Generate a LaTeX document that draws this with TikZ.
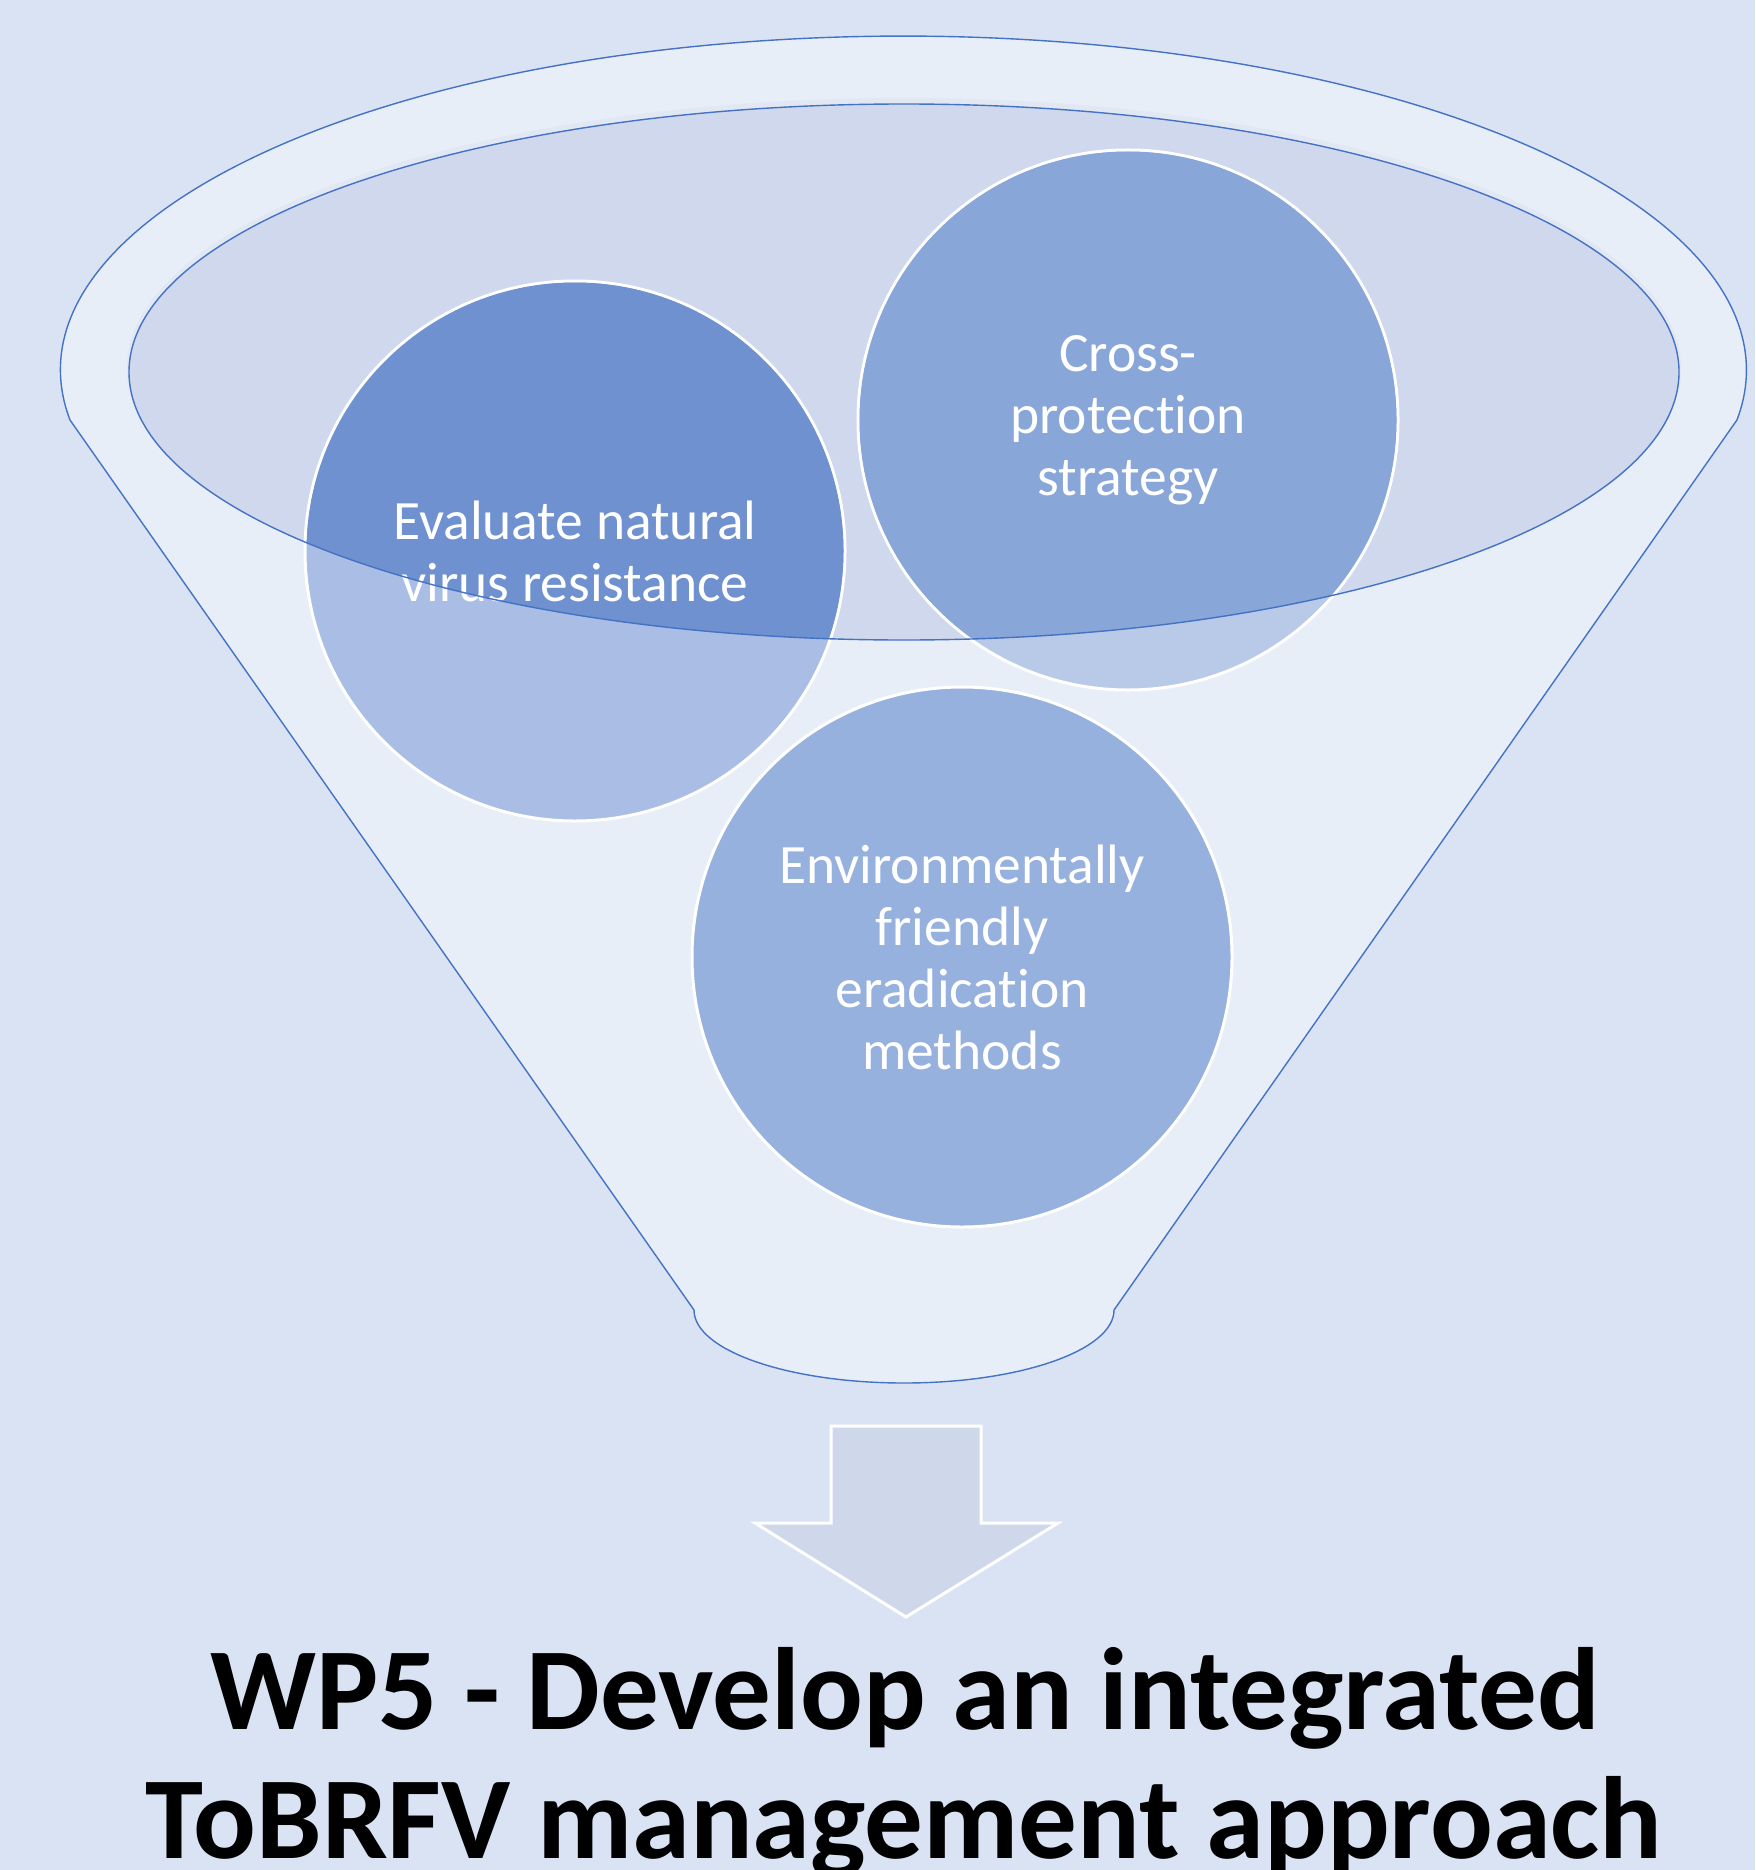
\documentclass[tikz,border=0pt]{standalone}
\usepackage{fontspec}
\setmainfont{Carlito}[Ligatures=NoCommon]
\definecolor{bg}{HTML}{DAE3F3}
\definecolor{funnelfill}{HTML}{E7EEF8}
\definecolor{innerfill}{HTML}{CFD8EC}
\definecolor{innerband}{HTML}{E1E8F4}
\definecolor{edgeblue}{HTML}{4472C4}
\definecolor{conelight}{HTML}{AABEE5}
\definecolor{conedark}{HTML}{6F91CF}
\definecolor{ctwolight}{HTML}{B9CAE8}
\definecolor{ctwodark}{HTML}{89A6D8}
\definecolor{cthree}{HTML}{97B1DE}
\definecolor{arrowfill}{HTML}{CFD7EB}
\begin{document}
\begin{tikzpicture}[x=1pt,y=-1pt,
  bubble/.style={circle, minimum size=540pt, inner sep=0pt, draw=white, line width=3pt},
  bubtext/.style={text=white, align=center, inner sep=0pt, font=\fontsize{55.5}{62}\selectfont},
  titletext/.style={text=black, anchor=base, inner sep=0pt, font=\fontsize{117}{129}\selectfont\bfseries},
  rim/.style={draw=edgeblue, line width=1.4pt}]
\useasboundingbox (0,0) rectangle (1755,1870);
\fill[bg] (0,0) rectangle (1755,1870);
% funnel body
\coordinate (lk) at (70,420);
\coordinate (rk) at (1738,420);
\coordinate (lb) at (694,1310);
\coordinate (rb) at (1114,1310);
\filldraw[fill=funnelfill, rim] (lk) arc[start angle=188.6, end angle=-8.6, x radius=843pt, y radius=334pt]
  -- (rb) arc[start angle=0, end angle=-180, x radius=210pt, y radius=73pt] -- cycle;
% inner opening
\fill[innerband] (904,368) ellipse[x radius=777pt, y radius=270pt];
\fill[innerfill] (904,372) ellipse[x radius=775pt, y radius=268pt];
% bubbles
\node[bubble, fill=conelight] (c1) at (575,551) {};
\node[bubble, fill=ctwolight] (c2) at (1128,420) {};
\node[bubble, fill=cthree] (c3) at (962,957) {};
\begin{scope}
  \clip (904,372) ellipse[x radius=775pt, y radius=268pt];
  \fill[conedark] (c1.center) circle[radius=268.5pt];
  \fill[ctwodark] (c2.center) circle[radius=268.5pt];
\end{scope}
\node[bubtext] (t1) at (c1.center) {Evaluate natural\\virus resistance};
\node[bubtext] (t2) at (c2.center) {Cross-\\protection\\strategy};
\node[bubtext] (t3) at (c3.center) {Environmentally\\friendly\\eradication\\methods};
\draw[rim] (904,372) ellipse[x radius=775pt, y radius=268pt];
% block arrow
\draw[fill=arrowfill, draw=white, line width=3pt]
  (831,1426) -- (981,1426) -- (981,1523) -- (1058,1523) -- (906,1617) -- (755,1523) -- (831,1523) -- cycle;
% title
\node[titletext] (title1) at (905,1729) {WP5 - Develop an integrated};
\node[titletext] (title2) at (904,1858) {ToBRFV management approach};
\end{tikzpicture}
\end{document}
